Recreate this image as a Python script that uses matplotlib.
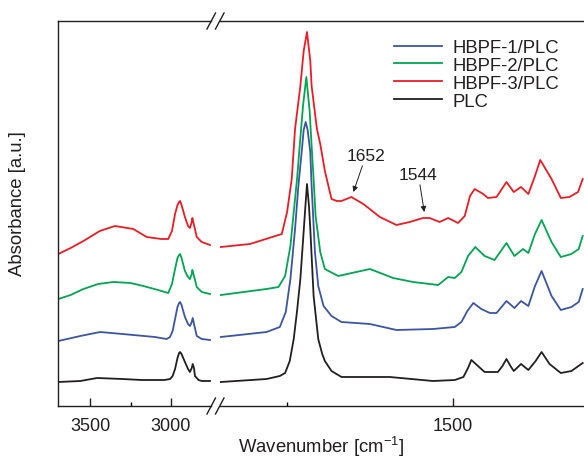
import matplotlib
matplotlib.use("Agg")
import matplotlib.pyplot as plt
from matplotlib.lines import Line2D
from matplotlib.ticker import MultipleLocator, NullLocator

plt.rcParams['font.family'] = ['Liberation Sans', 'DejaVu Sans']
plt.rcParams['mathtext.fontset'] = 'custom'
plt.rcParams['mathtext.rm'] = 'Liberation Sans'

# ---- data (wavenumber in cm-1, absorbance in a.u.) ----
# left part of the broken axis (O-H / C-H region)
wn_l_plc = [3696, 3560, 3457, 3300, 3181, 3040, 3006, 2990, 2975, 2960, 2950, 2944, 2935, 2914,
            2895, 2883, 2872, 2866, 2858, 2852, 2830, 2810, 2759]
ab_l_plc = [0.24, 0.25, 0.28, 0.27, 0.26, 0.26, 0.27, 0.30, 0.37, 0.48, 0.53, 0.54, 0.52, 0.44,
            0.37, 0.34, 0.38, 0.42, 0.38, 0.30, 0.26, 0.25, 0.25]

wn_l_1 = [3696, 3560, 3438, 3300, 3233, 3100, 3027, 3006, 2990, 2975, 2960, 2950, 2944, 2935,
          2914, 2895, 2883, 2872, 2866, 2858, 2841, 2810, 2759]
ab_l_1 = [0.65, 0.70, 0.74, 0.72, 0.71, 0.69, 0.67, 0.69, 0.75, 0.87, 0.99, 1.03, 1.04, 1.01,
          0.89, 0.82, 0.80, 0.84, 0.88, 0.82, 0.70, 0.67, 0.66]

wn_l_2 = [3696, 3620, 3541, 3450, 3356, 3250, 3171, 3080, 3017, 2994, 2975, 2960, 2950, 2944,
          2935, 2914, 2895, 2883, 2872, 2868, 2858, 2841, 2810, 2759]
ab_l_2 = [1.07, 1.11, 1.17, 1.22, 1.24, 1.23, 1.20, 1.16, 1.13, 1.22, 1.37, 1.48, 1.51, 1.52,
          1.48, 1.35, 1.29, 1.27, 1.32, 1.36, 1.30, 1.19, 1.14, 1.12]

wn_l_3 = [3696, 3620, 3541, 3440, 3346, 3233, 3150, 3060, 3017, 2994, 2975, 2960, 2950, 2944,
          2935, 2914, 2895, 2883, 2872, 2868, 2858, 2841, 2810, 2759]
ab_l_3 = [1.52, 1.58, 1.65, 1.75, 1.80, 1.77, 1.69, 1.67, 1.67, 1.75, 1.92, 2.01, 2.04, 2.05,
          2.01, 1.89, 1.80, 1.78, 1.84, 1.88, 1.81, 1.69, 1.64, 1.61]

# right part of the broken axis (fingerprint region)
wn_r_plc = [1850, 1781, 1761, 1753, 1746, 1740, 1735, 1730, 1726, 1723, 1720, 1717, 1715, 1710,
            1703, 1697, 1693, 1688, 1683, 1668, 1655, 1595, 1530, 1497, 1484, 1477, 1472, 1467,
            1462, 1452, 1442, 1432, 1425, 1419, 1413, 1408, 1397, 1386, 1375, 1366, 1354, 1337,
            1321, 1304]
ab_r_plc = [0.24, 0.27, 0.30, 0.33, 0.45, 0.67, 0.95, 1.27, 1.65, 1.94, 2.22, 2.00, 1.77, 1.10,
            0.67, 0.52, 0.45, 0.40, 0.35, 0.29, 0.29, 0.29, 0.25, 0.26, 0.29, 0.38, 0.46, 0.43,
            0.40, 0.34, 0.34, 0.34, 0.40, 0.47, 0.40, 0.35, 0.42, 0.36, 0.45, 0.54, 0.42, 0.33,
            0.35, 0.43]

wn_r_1 = [1850, 1781, 1761, 1752, 1745, 1738, 1733, 1728, 1725, 1722, 1719, 1715, 1713, 1708,
          1703, 1695, 1683, 1668, 1625, 1585, 1530, 1497, 1487, 1478, 1469, 1457, 1444, 1434,
          1419, 1407, 1397, 1386, 1376, 1366, 1351, 1337, 1321, 1310, 1304]
ab_r_1 = [0.69, 0.74, 0.79, 0.94, 1.27, 1.77, 2.20, 2.54, 2.76, 2.84, 2.76, 2.54, 2.20, 1.54,
          1.20, 1.00, 0.90, 0.84, 0.82, 0.76, 0.77, 0.79, 0.84, 0.95, 1.03, 0.97, 0.93, 0.93,
          1.05, 0.98, 1.05, 1.00, 1.20, 1.35, 1.10, 0.96, 0.99, 1.04, 1.17]

wn_r_2 = [1850, 1781, 1763, 1753, 1745, 1740, 1735, 1731, 1726, 1721, 1716, 1713, 1710, 1707,
          1700, 1693, 1673, 1625, 1590, 1560, 1522, 1507, 1497, 1487, 1477, 1466, 1452, 1437,
          1419, 1407, 1394, 1386, 1376, 1366, 1351, 1337, 1321, 1310, 1304]
ab_r_2 = [1.11, 1.17, 1.19, 1.30, 1.60, 1.94, 2.27, 2.60, 3.00, 3.29, 2.95, 2.60, 2.27, 1.90,
          1.54, 1.37, 1.30, 1.37, 1.28, 1.24, 1.21, 1.29, 1.28, 1.34, 1.50, 1.59, 1.50, 1.46,
          1.63, 1.50, 1.57, 1.53, 1.72, 1.86, 1.64, 1.49, 1.52, 1.57, 1.70]

wn_r_3 = [1850, 1806, 1758, 1750, 1743, 1738, 1730, 1725, 1720, 1715, 1713, 1705, 1700, 1693,
          1683, 1675, 1668, 1653, 1635, 1610, 1585, 1565, 1545, 1535, 1520, 1507, 1492, 1482,
          1474, 1467, 1454, 1447, 1434, 1419, 1408, 1397, 1386, 1376, 1368, 1351, 1337, 1324,
          1311, 1304]
ab_r_3 = [1.59, 1.62, 1.72, 1.94, 2.27, 2.77, 3.20, 3.55, 3.74, 3.45, 3.20, 2.77, 2.62, 2.35,
          2.07, 2.05, 2.05, 2.09, 2.02, 1.89, 1.81, 1.84, 1.88, 1.88, 1.84, 1.88, 1.83, 1.90,
          2.10, 2.17, 2.12, 2.08, 2.09, 2.24, 2.14, 2.19, 2.12, 2.30, 2.46, 2.27, 2.08, 2.09,
          2.14, 2.27]

labels = ["HBPF-1/PLC", "HBPF-2/PLC", "HBPF-3/PLC", "PLC"]
colors = ["#3b55a5", "#00a651", "#ed1c24", "#231f20"]

left_series = [(wn_l_1, ab_l_1), (wn_l_2, ab_l_2), (wn_l_3, ab_l_3), (wn_l_plc, ab_l_plc)]
right_series = [(wn_r_1, ab_r_1), (wn_r_2, ab_r_2), (wn_r_3, ab_r_3), (wn_r_plc, ab_r_plc)]

# peak annotations: label, arrow tip (wn, ab), text position (wn, ab)
peak_labels = ["1652", "1544"]
peak_tips = [(1650, 2.14), (1543, 1.94)]
peak_texts = [(1631, 2.43), (1552, 2.24)]

# ---- figure ----
W, H = 584, 460
fig = plt.figure(figsize=(W / 100, H / 100), dpi=100)

bottom = (H - 407) / H
height = (407 - 22) / H
ax_l = fig.add_axes([58 / W, bottom, (211 - 58) / W, height])
ax_r = fig.add_axes([219.5 / W, bottom, (W - 219.5) / W + 0.01, height])

for ax, series in ((ax_l, left_series), (ax_r, right_series)):
    for (wn, ab), lab, c in zip(series, labels, colors):
        ax.plot(wn, ab, color=c, lw=1.3, label=lab, solid_joinstyle='round')
    ax.set_ylim(0, 3.85)
    ax.yaxis.set_major_locator(NullLocator())
    ax.xaxis.set_major_locator(MultipleLocator(500))
    ax.xaxis.set_minor_locator(MultipleLocator(250))
    ax.tick_params(axis='x', which='major', direction='in', length=6, width=1.0,
                   labelsize=13, pad=8, colors='#231f20')
    ax.tick_params(axis='x', which='minor', direction='in', length=3, width=1.0)
    for s in ax.spines.values():
        s.set_linewidth(1.0)
        s.set_color('#231f20')

ax_l.set_xlim(3698, 2753)
ax_r.set_xlim(1852, 1302 - 0.01 * W * 1.506)
ax_l.spines['right'].set_visible(False)
ax_r.spines['left'].set_visible(False)
ax_r.spines['right'].set_visible(False)

for lab, tip, txt in zip(peak_labels, peak_tips, peak_texts):
    ax_r.annotate(lab, xy=tip, xytext=txt, ha='center', va='bottom', fontsize=12.5,
                  color='#231f20',
                  arrowprops=dict(arrowstyle='-|>', color='#231f20', lw=0.7,
                                  mutation_scale=8, shrinkA=0, shrinkB=0))

# axis break marks
for yc in (22, 407):
    for x0 in (207, 215.5):
        fig.add_artist(Line2D([x0 / W, (x0 + 8.5) / W],
                              [(H - yc - 8) / H, (H - yc + 8) / H],
                              color='#231f20', lw=1.0))

leg = ax_r.legend(loc='upper left', bbox_to_anchor=(394 / W, (H - 40) / H),
                  bbox_transform=fig.transFigure, frameon=False, fontsize=13.3,
                  borderpad=0, borderaxespad=0, labelspacing=0.05,
                  handlelength=2.6, handletextpad=0.55)
for t in leg.get_texts():
    t.set_color('#231f20')

fig.text(321 / W, (H - 447) / H, 'Wavenumber [cm$^{-1}$]', ha='center', va='center',
         fontsize=13.3, color='#231f20')
fig.text(18 / W, (H - 204) / H, 'Absorbance [a.u.]', ha='center', va='center',
         rotation=90, fontsize=13.3, color='#231f20')

fig.savefig("out.png", dpi=100)
